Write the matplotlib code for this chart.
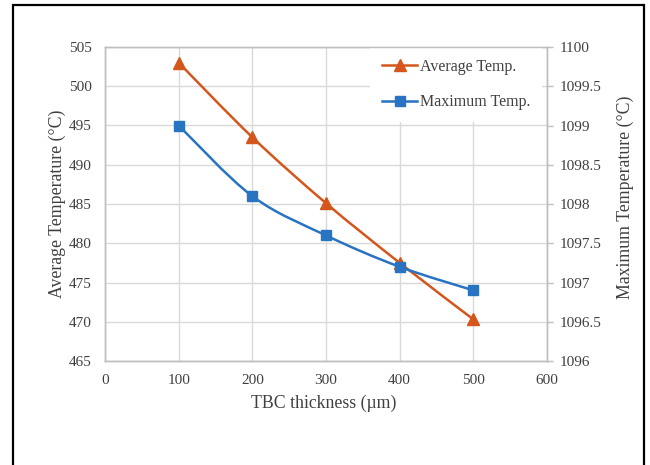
import matplotlib
matplotlib.use("Agg")
import matplotlib.pyplot as plt
from matplotlib.path import Path
from matplotlib.patches import PathPatch, Rectangle
from matplotlib.lines import Line2D

plt.rcParams['font.family'] = ['Liberation Serif', 'DejaVu Serif']

# ---- data ----
thickness = [100, 200, 300, 400, 500]
avg_temp = [503.0, 493.5, 485.1, 477.5, 470.3]
max_temp = [1099.0, 1098.1, 1097.6, 1097.2, 1096.9]
x_ticks = [0, 100, 200, 300, 400, 500, 600]
left_ticks = [465, 470, 475, 480, 485, 490, 495, 500, 505]
right_ticks = [1096, 1096.5, 1097, 1097.5, 1098, 1098.5, 1099, 1099.5, 1100]
right_tick_labels = ['1096', '1096.5', '1097', '1097.5', '1098', '1098.5', '1099', '1099.5', '1100']
series_names = ['Average Temp.', 'Maximum Temp.']

ORANGE = '#D4561C'
BLUE = '#2873C2'
GRID = '#D9D9D9'
SPINE = '#BFBFBF'
TEXT = '#404040'


def smooth_path(xs, ys):
    """Excel-style smoothed line as cubic Bezier path through the data points."""
    verts = [(xs[0], ys[0])]
    codes = [Path.MOVETO]
    n = len(xs)
    for i in range(n - 1):
        x0, y0 = (xs[i - 1], ys[i - 1]) if i > 0 else (xs[i], ys[i])
        x1, y1 = xs[i], ys[i]
        x2, y2 = xs[i + 1], ys[i + 1]
        x3, y3 = (xs[i + 2], ys[i + 2]) if i + 2 < n else (xs[i + 1], ys[i + 1])
        c1 = (x1 + (x2 - x0) / 6.0, y1 + (y2 - y0) / 6.0)
        c2 = (x2 - (x3 - x1) / 6.0, y2 - (y3 - y1) / 6.0)
        verts += [c1, c2, (x2, y2)]
        codes += [Path.CURVE4, Path.CURVE4, Path.CURVE4]
    return Path(verts, codes)


fig = plt.figure(figsize=(6.5, 4.65), dpi=100)
ax = fig.add_axes([105 / 650, 1 - 361 / 465, 442 / 650, 314 / 465])
ax2 = ax.twinx()

# left axis
ax.set_xlim(0, 600)
ax.set_ylim(465, 505)
ax.set_xticks(x_ticks)
ax.set_yticks(left_ticks)
ax.grid(True, color=GRID, linewidth=1.0)
ax.set_axisbelow(True)
ax.tick_params(axis='both', length=0, labelsize=11, colors=TEXT)
ax.tick_params(axis='y', pad=9.5)
ax.tick_params(axis='x', pad=9)
for s in ax.spines.values():
    s.set_color(SPINE)
    s.set_linewidth(1.0)

ax.add_patch(PathPatch(smooth_path(thickness, avg_temp), fill=False,
                       edgecolor=ORANGE, linewidth=1.8, zorder=3))
ax.plot(thickness, avg_temp, linestyle='none', marker='^', markersize=8,
        color=ORANGE, zorder=4)

# right axis
ax2.set_ylim(1096, 1100)
ax2.set_yticks(right_ticks)
ax2.set_yticklabels(right_tick_labels)
ax2.tick_params(axis='y', length=4, width=1, color=SPINE, labelsize=11,
                labelcolor=TEXT, pad=5)
for s in ax2.spines.values():
    s.set_color(SPINE)
    s.set_linewidth(1.0)

ax2.add_patch(PathPatch(smooth_path(thickness, max_temp), fill=False,
                        edgecolor=BLUE, linewidth=1.8, zorder=3))
ax2.plot(thickness, max_temp, linestyle='none', marker='s', markersize=7,
         color=BLUE, zorder=4)

# labels
ax.set_xlabel('TBC thickness (µm)', fontsize=12.8, color=TEXT)
ax.set_ylabel('Average Temperature (°C)', fontsize=12.8, color=TEXT)
ax2.set_ylabel('Maximum Temperature (°C)', fontsize=12.8, color=TEXT)
ax.xaxis.set_label_coords(0.495, -(403 - 361) / 314)
ax.xaxis.label.set_verticalalignment('center')
ax.yaxis.set_label_coords((57 - 105) / 442, 0.5)
ax.yaxis.label.set_verticalalignment('center')
ax2.yaxis.set_label_coords((625 - 105) / 442, 0.52)
ax2.yaxis.label.set_verticalalignment('center')

# legend
handles = [
    Line2D([], [], color=ORANGE, linewidth=1.8, marker='^', markersize=8),
    Line2D([], [], color=BLUE, linewidth=1.8, marker='s', markersize=7),
]
leg = ax2.legend(handles, series_names, loc='upper left',
                 bbox_to_anchor=((370 - 105) / 442, 1.0), frameon=True,
                 facecolor='white', edgecolor='none', framealpha=1.0,
                 fancybox=False, fontsize=11.5, handlelength=2.2,
                 handletextpad=0.15, labelspacing=1.2, borderpad=0.75,
                 borderaxespad=0.0)
leg.set_zorder(1)
for t in leg.get_texts():
    t.set_color(TEXT)

# figure border
fig.patches.append(Rectangle((13 / 650, -0.05), (644 - 13) / 650, (465 - 5) / 465 + 0.05,
                             transform=fig.transFigure, fill=False,
                             edgecolor='black', linewidth=1.6))

fig.savefig('out.png', dpi=100)
